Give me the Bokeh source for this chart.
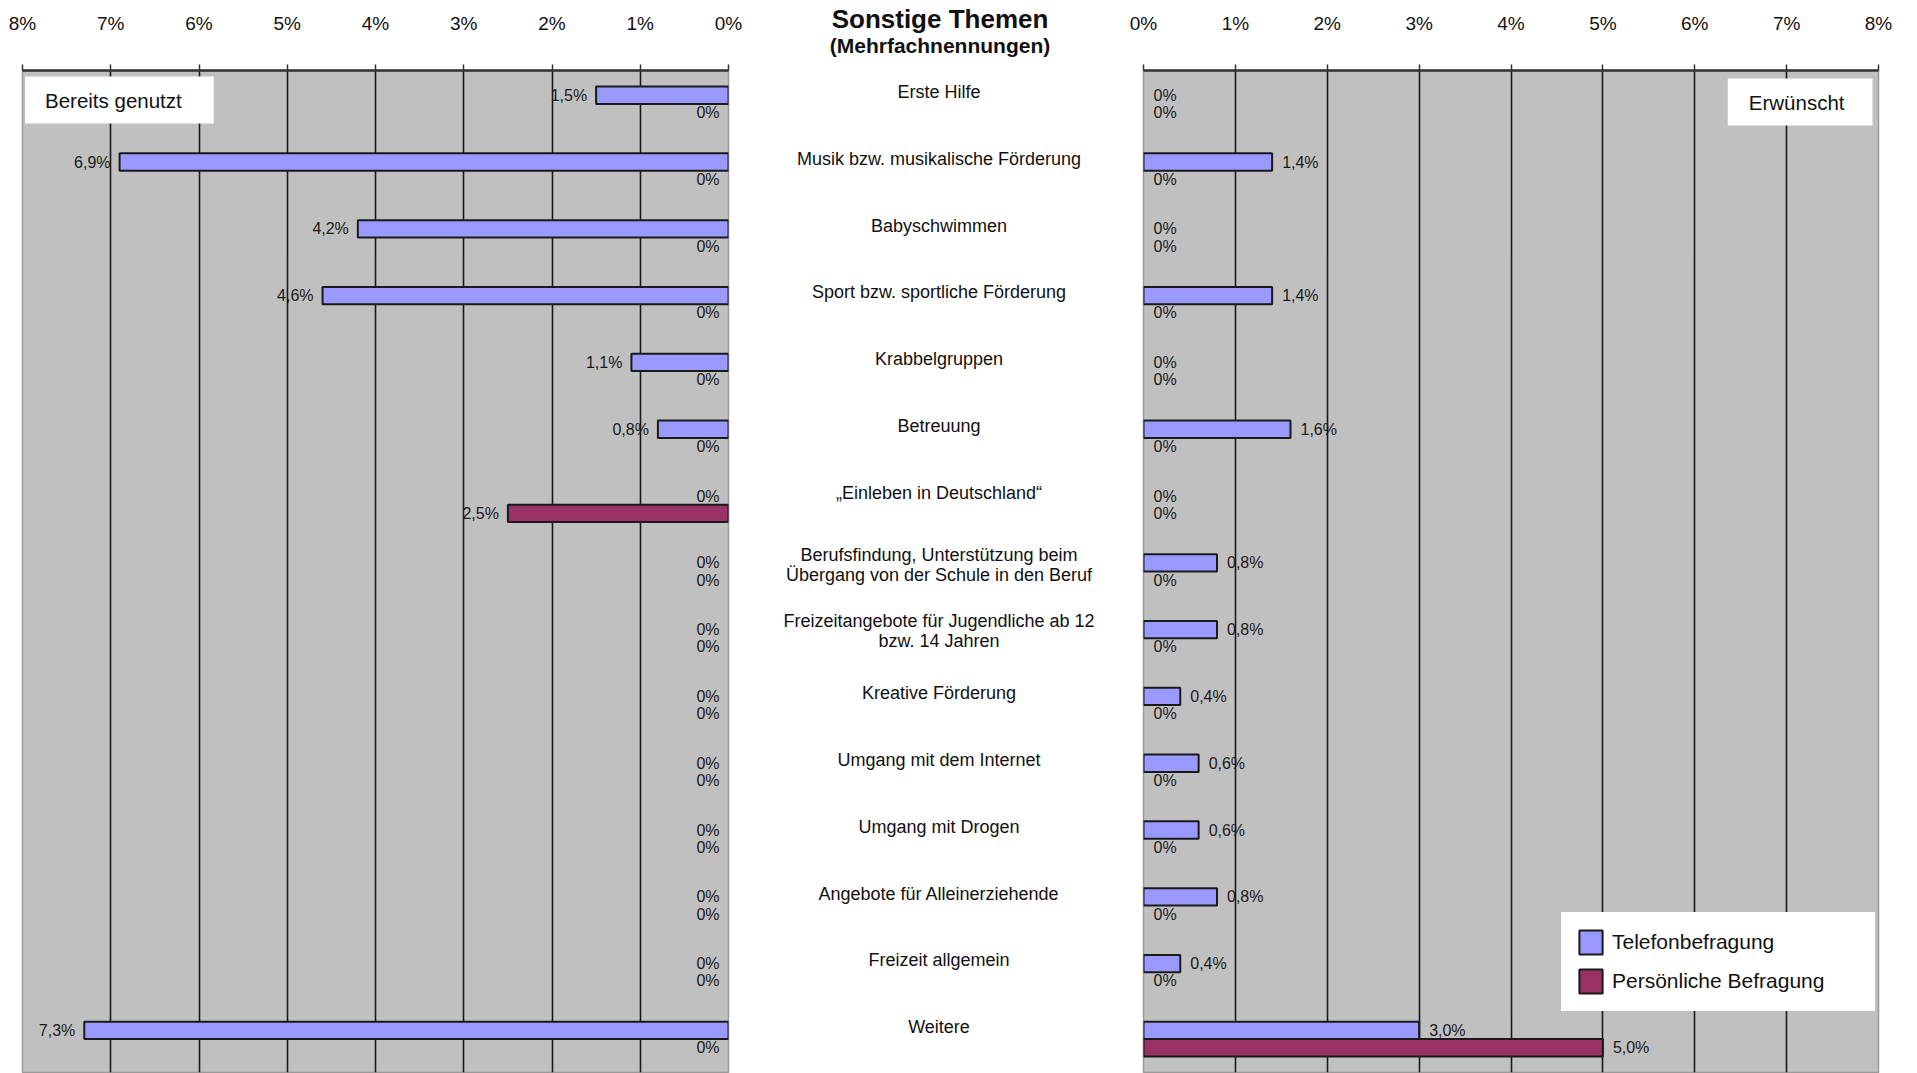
from bokeh.plotting import figure
from bokeh.layouts import row, column
from bokeh.models import (Range1d, FactorRange, ColumnDataSource, FixedTicker,
                          PrintfTickFormatter, Label, Legend, LegendItem)
from bokeh.transform import dodge
from bokeh.core.properties import value
from bokeh.embed import file_html
from bokeh.resources import INLINE

# ---- data -------------------------------------------------------------
categories = [
    "Erste Hilfe",
    "Musik bzw. musikalische Förderung",
    "Babyschwimmen",
    "Sport bzw. sportliche Förderung",
    "Krabbelgruppen",
    "Betreuung",
    "„Einleben in Deutschland“",
    "Berufsfindung, Unterstützung beim\nÜbergang von der Schule in den Beruf",
    "Freizeitangebote für Jugendliche ab 12\nbzw. 14 Jahren",
    "Kreative Förderung",
    "Umgang mit dem Internet",
    "Umgang mit Drogen",
    "Angebote für Alleinerziehende",
    "Freizeit allgemein",
    "Weitere",
]

# "Bereits genutzt" (already used), percent
used_phone = [1.5, 6.9, 4.2, 4.6, 1.1, 0.8, 0.0, 0.0, 0.0, 0.0, 0.0, 0.0, 0.0, 0.0, 7.3]
used_personal = [0.0, 0.0, 0.0, 0.0, 0.0, 0.0, 2.5, 0.0, 0.0, 0.0, 0.0, 0.0, 0.0, 0.0, 0.0]

# "Erwünscht" (wanted), percent
wanted_phone = [0.0, 1.4, 0.0, 1.4, 0.0, 1.6, 0.0, 0.8, 0.8, 0.4, 0.6, 0.6, 0.8, 0.4, 3.0]
wanted_personal = [0.0, 0.0, 0.0, 0.0, 0.0, 0.0, 0.0, 0.0, 0.0, 0.0, 0.0, 0.0, 0.0, 0.0, 5.0]

series_names = ["Telefonbefragung", "Persönliche Befragung"]
axis_ticks = [0, 1, 2, 3, 4, 5, 6, 7, 8]
panel_titles = ["Bereits genutzt", "Erwünscht"]
chart_title = "Sonstige Themen"
chart_subtitle = "(Mehrfachnennungen)"

# ---- style ------------------------------------------------------------
PHONE_COLOR = "#9999FF"
PERSONAL_COLOR = "#993366"
PLOT_BG = "#C0C0C0"
FONT = "Liberation Sans"
H = 1073
TOP = 70
BOTTOM = 1
FRAME_H = H - TOP - BOTTOM
BAR_H = 0.26
SHIFT = 0.13


def pct(v):
    return "0%" if v == 0 else f"{v:.1f}".replace(".", ",") + "%"


y_range = FactorRange(factors=list(reversed(categories)))


def panel(x_range, width, border_left, border_right, phone, personal, align, offset):
    p = figure(width=width, height=H, x_range=x_range, y_range=y_range,
               x_axis_location="above", y_axis_location=None,
               toolbar_location=None, output_backend="svg",
               min_border_left=border_left, min_border_right=border_right,
               min_border_top=TOP, min_border_bottom=BOTTOM)
    p.background_fill_color = PLOT_BG
    p.border_fill_color = "white"
    p.outline_line_color = "#9a9a9a"
    p.outline_line_width = 1.5

    ax = p.xaxis[0]
    ax.ticker = FixedTicker(ticks=axis_ticks)
    ax.formatter = PrintfTickFormatter(format="%d%%")
    ax.major_label_text_font = FONT
    ax.major_label_text_font_size = "19px"
    ax.major_label_text_color = "#111111"
    ax.major_label_standoff = 31
    ax.major_tick_out = 6
    ax.major_tick_in = 0
    ax.major_tick_line_color = "#333333"
    ax.major_tick_line_width = 1.5
    ax.minor_tick_line_color = None
    ax.axis_line_color = "#333333"
    ax.axis_line_width = 2.5

    p.xgrid.ticker = FixedTicker(ticks=axis_ticks[1:-1])
    p.xgrid.grid_line_color = "#1a1a1a"
    p.xgrid.grid_line_width = 1.6
    p.ygrid.visible = False

    renderers = []
    for vals, shift, color in ((phone, SHIFT, PHONE_COLOR), (personal, -SHIFT, PERSONAL_COLOR)):
        nz = [(c, v) for c, v in zip(categories, vals) if v != 0]
        bar_src = ColumnDataSource(dict(cat=[c for c, _ in nz], v=[v for _, v in nz]))
        r = p.hbar(y=dodge("cat", shift, range=y_range), left=0, right="v",
                   height=BAR_H, source=bar_src, fill_color=color,
                   line_color="#1a1a1a", line_width=2)
        renderers.append(r)

        lbl_src = ColumnDataSource(dict(cat=categories, v=vals, t=[pct(v) for v in vals]))
        p.text(x="v", y=dodge("cat", shift, range=y_range), text="t", source=lbl_src,
               text_font=value(FONT), text_font_size="16px", text_color="#1a1a1a",
               text_align=align, text_baseline="middle", x_offset=offset)
    return p, renderers


def box_label(text, x, y, align, pad):
    return Label(x=x, y=y, x_units="screen", y_units="screen", text=text,
                 text_font=FONT, text_font_size="20.5px", text_color="#111111",
                 text_align=align, text_baseline="top",
                 background_fill_color="white", padding=pad)


# left panel: already used, axis runs right-to-left
p_left, _ = panel(Range1d(8, 0), 749, 22, 21, used_phone, used_personal, "right", -9)
p_left.add_layout(box_label(panel_titles[0], 2.5, FRAME_H - 6, "left", (20, 32, 12, 12)))

# right panel: wanted
p_right, rends = panel(Range1d(0, 8), 789, 15, 39, wanted_phone, wanted_personal, "left", 10)
p_right.add_layout(box_label(panel_titles[1], 729, FRAME_H - 8, "right", (21, 28, 12, 12)))

legend = Legend(items=[LegendItem(label=series_names[0], renderers=[rends[0]]),
                       LegendItem(label=series_names[1], renderers=[rends[1]])],
                location=(418, 61))
legend.background_fill_color = "white"
legend.background_fill_alpha = 1.0
legend.border_line_color = "white"
legend.border_line_width = 1
legend.label_text_font = FONT
legend.label_text_font_size = "21px"
legend.label_text_color = "#111111"
legend.glyph_width = 29
legend.glyph_height = 30
legend.label_height = 30
legend.label_width = 248
legend.label_standoff = 7
legend.spacing = 9
legend.padding = 14
legend.margin = 0
p_right.add_layout(legend)

# middle column: heading strip on top, category names below
MID_W = 379
p_head = figure(width=MID_W, height=TOP, x_range=Range1d(0, 1), y_range=Range1d(TOP, 0),
                x_axis_location=None, y_axis_location=None,
                toolbar_location=None, output_backend="svg",
                min_border_left=0, min_border_right=0,
                min_border_top=0, min_border_bottom=0)
p_head.outline_line_color = None
p_head.xgrid.visible = False
p_head.ygrid.visible = False
p_head.text(x=[0.5], y=[18], text=[chart_title], text_font=value(FONT),
            text_font_size="26px", text_font_style="bold", text_color="#111111",
            text_align="center", text_baseline="middle", x_offset=1)
p_head.text(x=[0.5], y=[45], text=[chart_subtitle], text_font=value(FONT),
            text_font_size="21px", text_font_style="bold", text_color="#111111",
            text_align="center", text_baseline="middle", x_offset=1)

p_mid = figure(width=MID_W, height=H - TOP, x_range=Range1d(0, 1), y_range=y_range,
               x_axis_location=None, y_axis_location=None,
               toolbar_location=None, output_backend="svg",
               min_border_left=0, min_border_right=0,
               min_border_top=0, min_border_bottom=BOTTOM)
p_mid.outline_line_color = None
p_mid.xgrid.visible = False
p_mid.ygrid.visible = False

# two-line names sit a little lower in their row than single-line ones
name_shift = [-7 if "\n" in c else -12 for c in categories]
mid_src = ColumnDataSource(dict(cat=categories, x=[0.5] * len(categories), yo=name_shift))
p_mid.text(x="x", y="cat", text="cat", source=mid_src,
           text_font=value(FONT), text_font_size="18px", text_color="#111111",
           text_align="center", text_baseline="middle", y_offset="yo",
           text_line_height=1.0)

layout = row(p_left, column(p_head, p_mid, spacing=0), p_right, spacing=0)
open("out.html", "w").write(file_html(layout, INLINE))
